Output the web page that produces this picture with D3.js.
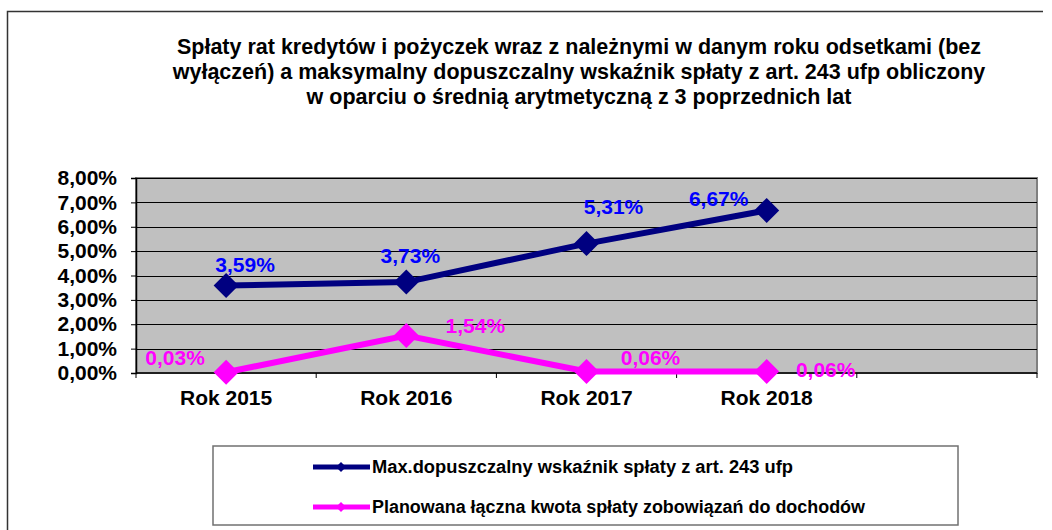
<!DOCTYPE html>
<html>
<head>
<meta charset="utf-8">
<script src="https://cdn.jsdelivr.net/npm/d3@7"></script>
<style>
  body { margin: 0; background: #fff; }
  svg { display: block; font-family: "Liberation Sans", Arial, sans-serif; }
</style>
</head>
<body>
<div id="vis"></div>
<script>
// data
const categories = ["Rok 2015", "Rok 2016", "Rok 2017", "Rok 2018", ""];
const years = ["Rok 2015", "Rok 2016", "Rok 2017", "Rok 2018"];
const maxRatio = [0.0359, 0.0373, 0.0531, 0.0667];
const plannedRatio = [0.0003, 0.0154, 0.0006, 0.0006];
const yTicks = [0, 0.01, 0.02, 0.03, 0.04, 0.05, 0.06, 0.07, 0.08];
const seriesNames = [
  "Max.dopuszczalny wskaźnik spłaty z art. 243 ufp",
  "Planowana łączna kwota spłaty zobowiązań do dochodów"
];
const titleLines = [
  "Spłaty rat kredytów i pożyczek wraz z należnymi w danym roku odsetkami (bez",
  "wyłączeń) a maksymalny dopuszczalny wskaźnik spłaty z art. 243 ufp obliczony",
  "w oparciu o średnią arytmetyczną z 3 poprzednich lat"
];

// label placement (Excel put them a bit all over the place)
const maxLabelShift = [[19, -13], [4, -19], [27, -30], [-48, -4]];
const plannedLabelShift = [[-51, -7], [69, -2], [64, -7], [59, 5]];
// legend text in the reference is a narrow rendering
const legendTextWidth = [421, 493];

const width = 1052, height = 530;
const margin = { top: 178, right: 15, bottom: 157, left: 136 };

const plFormat = d3.formatLocale({ decimal: ",", thousands: " ", grouping: [3], currency: ["", " zł"] });
const pct = plFormat.format(".2%");

const svg = d3.select("#vis").append("svg")
  .attr("width", width)
  .attr("height", height);

// outer frame (top + left only visible)
svg.append("path")
  .attr("d", "M7.5," + height + "V11.5H1043")
  .attr("fill", "none")
  .attr("stroke", "#333")
  .attr("stroke-width", 1.5);

// title
svg.append("g")
  .selectAll("text")
  .data(titleLines)
  .join("text")
  .attr("x", 579)
  .attr("y", (d, i) => 54 + i * 25)
  .attr("text-anchor", "middle")
  .attr("font-size", 21.5)
  .attr("font-weight", "bold")
  .text(d => d);

const x = d3.scaleBand()
  .domain(categories)
  .range([margin.left, width - margin.right]);

const y = d3.scaleLinear()
  .domain([0, 0.08])
  .range([height - margin.bottom, margin.top]);

// plot area
svg.append("rect")
  .attr("x", x.range()[0])
  .attr("y", y(0.08))
  .attr("width", x.range()[1] - x.range()[0])
  .attr("height", y(0) - y(0.08))
  .attr("fill", "#c0c0c0")
  .attr("stroke", "#808080")
  .attr("stroke-width", 2);

// gridlines
svg.append("g")
  .selectAll("line")
  .data(yTicks.slice(1))
  .join("line")
  .attr("x1", x.range()[0])
  .attr("x2", x.range()[1])
  .attr("y1", d => Math.round(y(d)) + 0.5)
  .attr("y2", d => Math.round(y(d)) + 0.5)
  .attr("stroke", "#000")
  .attr("stroke-width", 1);

// y axis
const yAxis = svg.append("g")
  .attr("transform", "translate(" + x.range()[0] + ",0)")
  .call(d3.axisLeft(y).tickValues(yTicks).tickFormat(pct).tickSize(5).tickPadding(14));
yAxis.select(".domain").attr("stroke", "#000").attr("stroke-width", 1.5);
yAxis.selectAll("text")
  .attr("font-family", "Liberation Sans, Arial, sans-serif")
  .attr("font-size", 21)
  .attr("font-weight", "bold")
  .attr("fill", "#000");

// x axis
const xAxis = svg.append("g")
  .attr("transform", "translate(0," + y(0) + ")");
xAxis.append("line")
  .attr("x1", x.range()[0])
  .attr("x2", x.range()[1])
  .attr("stroke", "#000")
  .attr("stroke-width", 1.5);
xAxis.selectAll(".tick")
  .data(categories.map(c => x(c)).concat([x.range()[1]]))
  .join("line")
  .attr("class", "tick")
  .attr("x1", d => d)
  .attr("x2", d => d)
  .attr("y1", 0)
  .attr("y2", 5)
  .attr("stroke", "#000");
xAxis.selectAll("text")
  .data(years)
  .join("text")
  .attr("x", d => x(d) + x.bandwidth() / 2)
  .attr("y", 32)
  .attr("text-anchor", "middle")
  .attr("font-size", 21)
  .attr("font-weight", "bold")
  .text(d => d);

const diamond = r => "M0," + (-r) + "L" + r + ",0L0," + r + "L" + (-r) + ",0Z";
const cx = d => x(d) + x.bandwidth() / 2;

function drawSeries(values, color, labelColor, shifts) {
  const pts = years.map((yr, i) => [cx(yr), y(values[i])]);
  svg.append("path")
    .attr("d", d3.line()(pts))
    .attr("fill", "none")
    .attr("stroke", color)
    .attr("stroke-width", 6);
  svg.append("g")
    .selectAll("path")
    .data(pts)
    .join("path")
    .attr("transform", d => "translate(" + d[0] + "," + d[1] + ")")
    .attr("d", diamond(12.5))
    .attr("fill", color);
  svg.append("g")
    .selectAll("text")
    .data(values)
    .join("text")
    .attr("x", (d, i) => pts[i][0] + shifts[i][0])
    .attr("y", (d, i) => pts[i][1] + shifts[i][1])
    .attr("text-anchor", "middle")
    .attr("font-size", 21)
    .attr("font-weight", "bold")
    .attr("fill", labelColor)
    .text(d => pct(d));
}

drawSeries(maxRatio, "#000080", "#0000ff", maxLabelShift);
drawSeries(plannedRatio, "#ff00ff", "#ff00ff", plannedLabelShift);

// legend
const legend = svg.append("g");
legend.append("rect")
  .attr("x", 213)
  .attr("y", 446)
  .attr("width", 745)
  .attr("height", 79)
  .attr("fill", "#fff")
  .attr("stroke", "#707070")
  .attr("stroke-width", 1.5);

const legendColors = ["#000080", "#ff00ff"];
const rows = legend.selectAll(".row")
  .data(seriesNames)
  .join("g")
  .attr("class", "row")
  .attr("transform", (d, i) => "translate(313," + (467 + i * 40) + ")");
rows.append("line")
  .attr("x1", 0)
  .attr("x2", 57)
  .attr("stroke", (d, i) => legendColors[i])
  .attr("stroke-width", 5);
rows.append("path")
  .attr("transform", "translate(28,0)")
  .attr("d", diamond(5))
  .attr("fill", (d, i) => legendColors[i]);
rows.append("text")
  .attr("x", 59)
  .attr("dy", "0.35em")
  .attr("font-size", 18)
  .attr("font-weight", "bold")
  .attr("textLength", (d, i) => legendTextWidth[i])
  .attr("lengthAdjust", "spacingAndGlyphs")
  .text(d => d);
</script>
</body>
</html>
